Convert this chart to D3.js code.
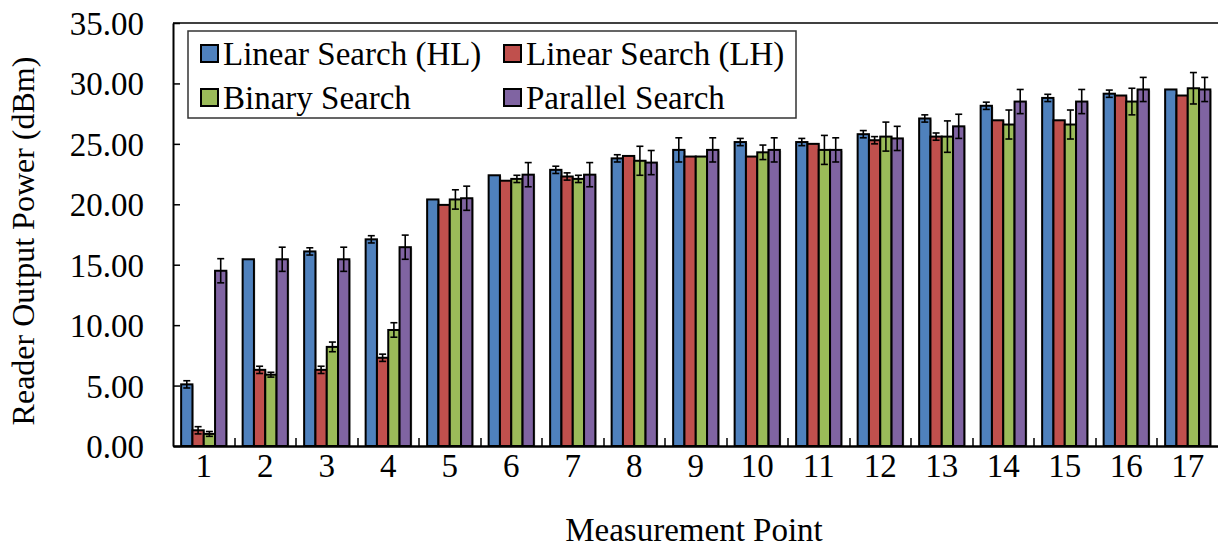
<!DOCTYPE html>
<html>
<head>
<meta charset="utf-8">
<script src="https://cdn.jsdelivr.net/npm/d3@7"></script>
<style>
  body { margin: 0; background: #fff; }
  svg text { font-family: "Liberation Serif", "Times New Roman", "DejaVu Serif", serif; fill: #000; }
</style>
</head>
<body>
<script>
// ---- data ----
var points = ['1','2','3','4','5','6','7','8','9','10','11','12','13','14','15','16','17'];
var seriesNames = ['Linear Search (HL)', 'Linear Search (LH)', 'Binary Search', 'Parallel Search'];
var seriesColors = ['#4F81BD', '#C0504D', '#9BBB59', '#8064A2'];

var linearHL    = [5.1, 15.45, 16.1, 17.1, 20.4, 22.4, 22.85, 23.8, 24.5, 25.15, 25.15, 25.8, 27.1, 28.15, 28.8, 29.15, 29.5];
var linearHLErr = [0.3, 0,     0.3,  0.3,  0,    0,    0.3,   0.3,  1.0,  0.3,   0.3,   0.3,  0.3,  0.3,   0.3,  0.3,   0];
var linearLH    = [1.3, 6.3, 6.3, 7.3, 19.95, 21.95, 22.3, 24.0, 23.95, 23.95, 25.0, 25.3, 25.6, 26.95, 26.95, 29.0, 29.0];
var linearLHErr = [0.3, 0.3, 0.3, 0.3, 0,     0,     0.3,  0,    0,     0,     0,    0.3,  0.3,  0,     0,     0,    0];
var binary      = [1.0, 5.9, 8.2, 9.6, 20.4, 22.1, 22.1, 23.6, 23.95, 24.3, 24.5, 25.6, 25.6, 26.6, 26.6, 28.5, 29.6];
var binaryErr   = [0.2, 0.2, 0.4, 0.6, 0.8,  0.3,  0.3,  1.2,  0,     0.6,  1.2,  1.2,  1.3,  1.2,  1.2,  1.1,  1.3];
var parallel    = [14.5, 15.45, 15.45, 16.45, 20.5, 22.45, 22.45, 23.45, 24.5, 24.5, 24.5, 25.45, 26.45, 28.5, 28.5, 29.5, 29.5];
var parallelErr = [1.0,  1.0,   1.0,   1.0,   1.0,  1.0,   1.0,   1.0,   1.0,  1.0,  1.0,  1.0,   1.0,   1.0,  1.0,  1.0,  1.0];

var yTicks = [0, 5, 10, 15, 20, 25, 30, 35];

var values = [linearHL, linearLH, binary, parallel];
var errors = [linearHLErr, linearLHErr, binaryErr, parallelErr];

// ---- layout ----
var W = 1218, H = 550;
var plotLeft = 173, plotRight = 1218.5, plotTop = 23, plotBottom = 446;
var fontPx = '33px';
var serif = '"Liberation Serif", "Times New Roman", serif';

var svg = d3.select('body').append('svg').attr('width', W).attr('height', H)
    .attr('font-family', serif);

var x0 = d3.scaleBand().domain(points).range([plotLeft, plotRight]).paddingInner(0).paddingOuter(0);
var x1 = d3.scaleBand().domain(d3.range(4)).range([0, x0.bandwidth()]).paddingInner(0).paddingOuter(0.72);
var y = d3.scaleLinear().domain([0, 35]).range([plotBottom, plotTop]);

// bars
points.forEach(function(p, i){
    var g = svg.append('g').attr('transform', 'translate(' + x0(p) + ',0)');
    for (var s = 0; s < 4; s++){
        g.append('rect')
            .attr('x', x1(s) + 1.5).attr('y', y(values[s][i]) + 1)
            .attr('width', x1.bandwidth()).attr('height', plotBottom - y(values[s][i]))
            .attr('fill', '#cfcfcf');
        g.append('rect')
            .attr('x', x1(s)).attr('y', y(values[s][i]))
            .attr('width', x1.bandwidth()).attr('height', plotBottom - y(values[s][i]))
            .attr('fill', seriesColors[s]).attr('stroke', '#000').attr('stroke-width', 2);
    }
    // error bars on top
    for (var s = 0; s < 4; s++){
        var e = errors[s][i];
        if (e <= 0) continue;
        var cx = x1(s) + x1.bandwidth() / 2;
        var yHi = y(values[s][i] + e), yLo = y(values[s][i] - e);
        g.append('line').attr('x1', cx).attr('x2', cx).attr('y1', yHi).attr('y2', yLo)
            .attr('stroke', '#000').attr('stroke-width', 1.6);
        [yHi, yLo].forEach(function(yy){
            g.append('line').attr('x1', cx - 3.5).attr('x2', cx + 3.5).attr('y1', yy).attr('y2', yy)
                .attr('stroke', '#000').attr('stroke-width', 1.6);
        });
    }
});

// y axis
var yAxis = d3.axisLeft(y).tickValues(yTicks).tickFormat(d3.format('.2f'))
    .tickSizeInner(-7).tickSizeOuter(0).tickPadding(29);
var ya = svg.append('g').attr('transform', 'translate(' + plotLeft + ',0)').call(yAxis);
ya.attr('font-family', serif).attr('font-size', null);
ya.selectAll('text').style('font-size', fontPx).attr('dy', '0.35em');
ya.selectAll('line').attr('stroke', '#000').attr('stroke-width', 1.5);
ya.select('.domain').attr('stroke', '#000').attr('stroke-width', 2);

// x axis labels
var xAxis = d3.axisBottom(x0).tickSize(0).tickPadding(8);
var xa = svg.append('g').attr('transform', 'translate(0,' + plotBottom + ')').call(xAxis);
xa.attr('font-family', serif).attr('font-size', null);
xa.selectAll('text').style('font-size', fontPx).attr('dy', '0.71em');
xa.select('.domain').attr('stroke', '#000').attr('stroke-width', 2.5);
// category boundary ticks, pointing up
svg.append('g').selectAll('line').data(points.slice(1)).join('line')
    .attr('x1', function(d){ return Math.round(x0(d)); }).attr('x2', function(d){ return Math.round(x0(d)); })
    .attr('y1', plotBottom).attr('y2', plotBottom - 8)
    .attr('stroke', '#000').attr('stroke-width', 1.5);

// top frame line
svg.append('line').attr('x1', plotLeft).attr('x2', plotRight).attr('y1', plotTop).attr('y2', plotTop)
    .attr('stroke', '#000').attr('stroke-width', 1.5);

// axis titles
svg.append('text').attr('x', 694).attr('y', 541).attr('text-anchor', 'middle')
    .style('font-size', fontPx).text('Measurement Point');
svg.append('text').attr('transform', 'translate(34,241) rotate(-90)').attr('text-anchor', 'middle')
    .style('font-size', '32px').text('Reader Output Power (dBm)');

// legend
var leg = svg.append('g');
leg.append('rect').attr('x', 188).attr('y', 31).attr('width', 608).attr('height', 87)
    .attr('fill', '#fff').attr('stroke', '#333').attr('stroke-width', 1.5);
var legPos = [[201, 65], [504, 65], [201, 109], [504, 109]];
seriesNames.forEach(function(name, s){
    var p = legPos[s];
    leg.append('rect').attr('x', p[0]).attr('y', p[1] - 20).attr('width', 17).attr('height', 17)
        .attr('fill', seriesColors[s]).attr('stroke', '#000').attr('stroke-width', 2);
    leg.append('text').attr('x', p[0] + 22).attr('y', p[1])
        .style('font-size', fontPx).text(name);
});
</script>
</body>
</html>
